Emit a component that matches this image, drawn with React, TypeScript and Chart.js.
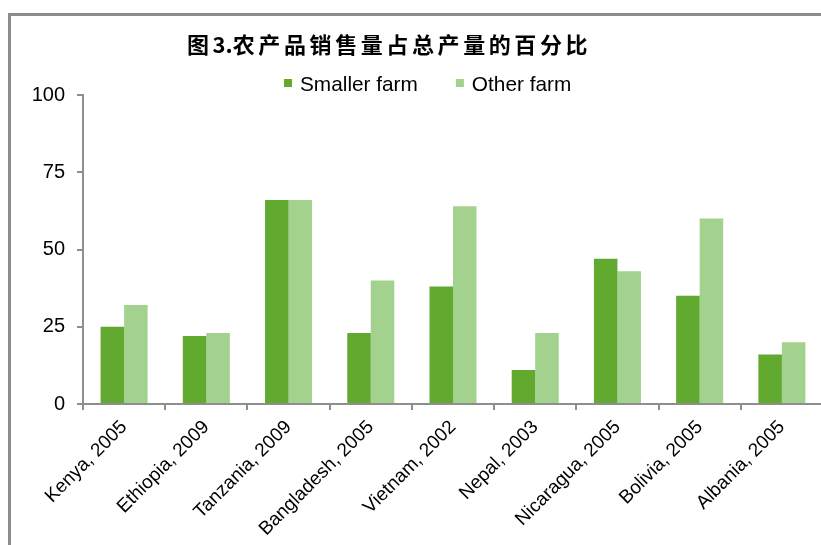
import React, { useEffect, useRef } from "react";
import { Chart, registerables } from "chart.js";

Chart.register(...registerables);

const categories = [
  "Kenya, 2005",
  "Ethiopia, 2009",
  "Tanzania, 2009",
  "Bangladesh, 2005",
  "Vietnam, 2002",
  "Nepal, 2003",
  "Nicaragua, 2005",
  "Bolivia, 2005",
  "Albania, 2005",
];
const smallerFarm = [25, 22, 66, 23, 38, 11, 47, 35, 16];
const otherFarm = [32, 23, 66, 40, 64, 23, 43, 60, 20];
const yTicks = [0, 25, 50, 75, 100];
const seriesNames = ["Smaller farm", "Other farm"];
const titleText = "图3.农产品销售量占总产量的百分比";

const DARK = "#62a930";
const LIGHT = "#a2d28d";
const AXIS = "#8e8e8e";

const headerPlugin = {
  id: "header",
  afterDraw(chart: any) {
    const ctx = chart.ctx;
    ctx.save();
    // title
    ctx.fillStyle = "#000";
    ctx.font = "bold 22px 'Noto Sans CJK SC'";
    ctx.textBaseline = "middle";
    ctx.textAlign = "left";
    let x = 187;
    for (const ch of Array.from(titleText)) {
      ctx.fillText(ch, x, 45);
      const isLatin = /[0-9.]/.test(ch);
      x += ctx.measureText(ch).width + (isLatin ? 0 : 3.6);
    }
    // legend
    ctx.font = "20.8px 'Liberation Sans', Arial, sans-serif";
    ctx.textBaseline = "alphabetic";
    let lx = 284;
    chart.data.datasets.forEach((ds: any) => {
      ctx.fillStyle = ds.backgroundColor;
      ctx.fillRect(lx, 79, 8, 8);
      ctx.fillStyle = "#000";
      ctx.fillText(ds.label, lx + 16, 91);
      lx += 16 + ctx.measureText(ds.label).width + 38;
    });
    ctx.restore();
  },
};

export default function App() {
  const ref = useRef<HTMLCanvasElement | null>(null);

  useEffect(() => {
    if (!ref.current) return;
    const chart = new Chart(ref.current, {
      type: "bar",
      data: {
        labels: categories,
        datasets: [
          {
            label: seriesNames[0],
            data: smallerFarm,
            backgroundColor: DARK,
            borderWidth: 0,
            categoryPercentage: 0.572,
            barPercentage: 1,
          },
          {
            label: seriesNames[1],
            data: otherFarm,
            backgroundColor: LIGHT,
            borderWidth: 0,
            categoryPercentage: 0.572,
            barPercentage: 1,
          },
        ],
      },
      options: {
        responsive: false,
        animation: false,
        layout: { padding: { top: 95, right: 31, left: 0, bottom: 0 } },
        plugins: {
          legend: { display: false },
          title: { display: false },
          tooltip: { enabled: false },
        },
        scales: {
          x: {
            grid: {
              offset: true,
              drawOnChartArea: false,
              drawTicks: true,
              tickLength: 6,
              color: AXIS,
              lineWidth: 2,
            },
            border: { color: AXIS, width: 2 },
            ticks: {
              autoSkip: false,
              maxRotation: 45,
              minRotation: 45,
              color: "#000",
              padding: 6,
              font: { family: "'Liberation Sans', Arial, sans-serif", size: 19 },
            },
            afterFit(scale: any) {
              scale.height = 141;
            },
          },
          y: {
            min: 0,
            max: 100,
            grid: {
              drawOnChartArea: false,
              drawTicks: true,
              tickLength: 6,
              color: AXIS,
              lineWidth: 2,
            },
            border: { color: AXIS, width: 2 },
            ticks: {
              stepSize: 25,
              padding: 12,
              color: "#000",
              font: { family: "'Liberation Sans', Arial, sans-serif", size: 20 },
            },
            afterBuildTicks(scale: any) {
              scale.ticks = yTicks.map((v) => ({ value: v }));
            },
            afterFit(scale: any) {
              scale.width = 83;
            },
          },
        },
      },
      plugins: [headerPlugin],
    });
    return () => chart.destroy();
  }, []);

  return (
    <div
      style={{
        position: "fixed",
        left: 0,
        top: 0,
        width: 821,
        height: 545,
        overflow: "hidden",
        background: "#fff",
      }}
    >
      <div
        style={{
          position: "absolute",
          left: 8,
          top: 13,
          width: 900,
          height: 600,
          borderTop: "3px solid #8c8c8c",
          borderLeft: "3px solid #8c8c8c",
          boxSizing: "border-box",
        }}
      />
      <canvas
        ref={ref}
        width={854}
        height={545}
        style={{ position: "absolute", left: 0, top: 0, display: "block" }}
      />
    </div>
  );
}
